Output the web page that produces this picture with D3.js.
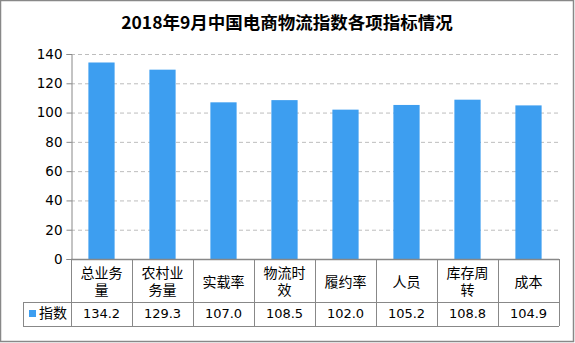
<!DOCTYPE html>
<html><head><meta charset="utf-8">
<script src="https://cdn.jsdelivr.net/npm/d3@7"></script>
<style>html,body{margin:0;padding:0;background:#fff;}</style>
</head><body>
<script>
const title = "2018年9月中国电商物流指数各项指标情况";
const categories = ["总业务量","农村业务量","实载率","物流时效","履约率","人员","库存周转","成本"];
const categoryLines = [["总业务","量"],["农村业","务量"],["实载率"],["物流时","效"],["履约率"],["人员"],["库存周","转"],["成本"]];
const seriesName = "指数";
const values = [134.2,129.3,107.0,108.5,102.0,105.2,108.8,104.9];
const yTicks = [0,20,40,60,80,100,120,140];

(function(){
const W=575,H=343;
const svg=d3.select("body").append("svg").attr("width",W).attr("height",H);
svg.append("rect").attr("x",0.5).attr("y",0.5).attr("width",W-2).attr("height",H-2)
  .attr("fill","#fff").attr("stroke","#888").attr("stroke-width",1.5);

const pL=71,pR=559,pT=54,pB=259;
const x=d3.scaleBand().domain(categories).range([pL,pR]).paddingInner(0.57).paddingOuter(0.285);
const xc=d3.scaleBand().domain(categories).range([pL,pR]);
const y=d3.scaleLinear().domain([0,140]).range([pB,pT]);

svg.append("text").attr("x",287).attr("y",29).attr("text-anchor","middle")
  .attr("font-family","'Noto Sans CJK SC'").attr("font-weight","bold").attr("font-size",17.5).attr("fill","#000").text(title);

svg.append("g").selectAll("line").data(yTicks.filter(d=>d>0)).join("line")
  .attr("x1",pL).attr("x2",pR).attr("y1",d=>y(d)+0.5).attr("y2",d=>y(d)+0.5)
  .attr("stroke","#bdbdbd").attr("stroke-dasharray","4,3");

const ya=svg.append("g").attr("transform",`translate(${pL+0.5},0)`)
  .call(d3.axisLeft(y).tickValues(yTicks).tickSize(5).tickPadding(4));
ya.select(".domain").attr("stroke","#888");
ya.selectAll(".tick line").attr("stroke","#888");
ya.selectAll("text").attr("font-family","'DejaVu Sans'").attr("font-size",13.5).attr("fill","#000");

svg.append("g").selectAll("rect").data(values).join("rect")
  .attr("x",(d,i)=>x(categories[i])).attr("width",x.bandwidth())
  .attr("y",d=>y(d)).attr("height",d=>pB-y(d)).attr("fill","#3d9ef0");

const tb=svg.append("g");
const rowTop=pB, rowMid=302, rowBot=326, legLeft=23;
const st="#888";
tb.append("line").attr("x1",pL).attr("x2",pR).attr("y1",rowTop+0.5).attr("y2",rowTop+0.5).attr("stroke",st).attr("stroke-width",1.5);
tb.append("line").attr("x1",legLeft).attr("x2",pR).attr("y1",rowMid+0.5).attr("y2",rowMid+0.5).attr("stroke",st);
tb.append("line").attr("x1",legLeft).attr("x2",pR).attr("y1",rowBot+0.5).attr("y2",rowBot+0.5).attr("stroke",st);
tb.append("line").attr("x1",legLeft+0.5).attr("x2",legLeft+0.5).attr("y1",rowMid).attr("y2",rowBot).attr("stroke",st);
const bounds=categories.map(c=>xc(c)).concat([pR]);
tb.selectAll("line.v").data(bounds).join("line").attr("class","v")
  .attr("x1",d=>d+0.5).attr("x2",d=>d+0.5).attr("y1",rowTop).attr("y2",rowBot).attr("stroke",st);

categoryLines.forEach((lines,i)=>{
  const cx=xc(categories[i])+xc.bandwidth()/2;
  const t=tb.append("text").attr("text-anchor","middle").attr("font-family","'Noto Sans CJK SC'").attr("font-size",14).attr("fill","#000");
  const y0 = lines.length===1 ? 287 : 278;
  lines.forEach((l,j)=>t.append("tspan").attr("x",cx).attr("y",y0+j*17).text(l));
});
tb.selectAll("text.val").data(values).join("text").attr("class","val")
  .attr("x",(d,i)=>xc(categories[i])+xc.bandwidth()/2).attr("y",318).attr("text-anchor","middle")
  .attr("font-family","'DejaVu Sans'").attr("font-size",13).attr("fill","#000").text(d=>d.toFixed(1));
tb.append("rect").attr("x",29).attr("y",310).attr("width",7).attr("height",7).attr("fill","#3d9ef0");
tb.append("text").attr("x",39).attr("y",318).attr("font-family","'Noto Sans CJK SC'").attr("font-size",14).attr("fill","#000").text(seriesName);
})();
</script>
</body></html>
